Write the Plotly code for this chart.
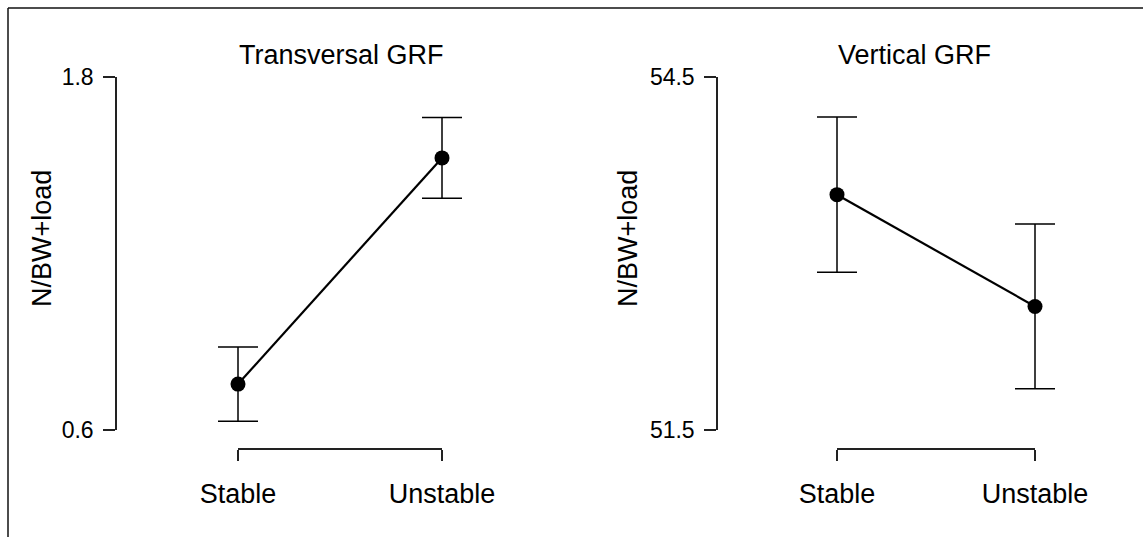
import plotly.graph_objects as go

# ---------------- data ----------------
categories = ["Stable", "Unstable"]
panel_titles = ["Transversal GRF", "Vertical GRF"]
y_label = "N/BW+load"

transversal_mean = [0.756, 1.525]
transversal_err = [0.126, 0.137]
vertical_mean = [53.50, 52.55]
vertical_err = [0.66, 0.70]

transversal_ticks = [0.6, 1.8]
vertical_ticks = [51.5, 54.5]

# ---------------- layout constants (pixels) ----------------
W, H = 1143, 537
FONT = "Liberation Sans, Arial, sans-serif"
INK = "#000000"
AX = "#222222"

def px_x(p):
    return p / W

def px_y(p):
    return 1 - p / H

Y_TOP, Y_BOT = 77, 430
BRACKET_Y = 449

panels = [
    dict(axis_x=117, right=563, cat0=238, cat1=442, title_x=341, ylab_x=42,
         mean=transversal_mean, err=transversal_err, ticks=transversal_ticks),
    dict(axis_x=718, right=1143, cat0=837, cat1=1035, title_x=915, ylab_x=628,
         mean=vertical_mean, err=vertical_err, ticks=vertical_ticks),
]

fig = go.Figure()
layout = dict(
    width=W, height=H, autosize=False,
    margin=dict(l=0, r=0, t=0, b=0, pad=0, autoexpand=False),
    paper_bgcolor="white", plot_bgcolor="rgba(0,0,0,0)",
    showlegend=False,
    font=dict(family=FONT, color=INK),
)

annotations = []
x_idx = list(range(len(categories)))

for i, p in enumerate(panels):
    n = i + 1
    xa = "xaxis" if n == 1 else f"xaxis{n}"
    ya = "yaxis" if n == 1 else f"yaxis{n}"
    xr = "x" if n == 1 else f"x{n}"
    yr = "y" if n == 1 else f"y{n}"
    bn = n + 2
    xb = f"xaxis{bn}"
    xbr = f"x{bn}"

    # data x-axis mapping: category 0 -> cat0 px, category 1 -> cat1 px
    scale = (p["cat1"] - p["cat0"])
    r0 = (p["axis_x"] - p["cat0"]) / scale
    r1 = (p["right"] - p["cat0"]) / scale

    layout[xa] = dict(domain=[px_x(p["axis_x"]), px_x(p["right"])], range=[r0, r1],
                      visible=False, anchor=yr)
    layout[ya] = dict(domain=[px_y(Y_BOT), px_y(Y_TOP)],
                      range=[p["ticks"][0], p["ticks"][-1]],
                      anchor=xr, showline=True, linecolor=AX, linewidth=1.5,
                      ticks="outside", ticklen=12, tickwidth=1.5, tickcolor=AX,
                      tickvals=p["ticks"], ticktext=[f"{t:g}" for t in p["ticks"]],
                      tickfont=dict(size=23, family=FONT, color=INK),
                      ticklabelstandoff=5,
                      showgrid=False, zeroline=False)
    # bracket x-axis carrying the category labels
    layout[xb] = dict(domain=[px_x(p["cat0"]), px_x(p["cat1"])], range=[0, len(categories) - 1],
                      anchor="free", position=px_y(BRACKET_Y),
                      showline=True, linecolor=AX, linewidth=1.5,
                      ticks="outside", ticklen=11, tickwidth=1.5, tickcolor=AX,
                      tickvals=x_idx, ticktext=categories,
                      tickfont=dict(size=27, family=FONT, color=INK),
                      ticklabelstandoff=10,
                      showgrid=False, zeroline=False)

    # invisible trace so the bracket axis is drawn
    fig.add_trace(go.Scatter(x=x_idx, y=p["mean"], xaxis=xbr, yaxis=yr,
                             mode="markers", marker=dict(opacity=0),
                             hoverinfo="skip"))
    # means with error bars
    fig.add_trace(go.Scatter(
        x=x_idx, y=p["mean"], xaxis=xr, yaxis=yr,
        mode="lines+markers",
        line=dict(color=INK, width=2.2),
        marker=dict(color=INK, size=15),
        error_y=dict(type="data", array=p["err"], visible=True,
                     color=INK, thickness=1.5, width=20),
        cliponaxis=False,
    ))

    annotations.append(dict(text=panel_titles[i], x=px_x(p["title_x"]), y=px_y(55),
                            xref="paper", yref="paper", xanchor="center", yanchor="middle",
                            showarrow=False, font=dict(size=27, family=FONT, color=INK)))
    annotations.append(dict(text=y_label, x=px_x(p["ylab_x"]), y=px_y(239),
                            xref="paper", yref="paper", xanchor="center", yanchor="middle",
                            textangle=-90, showarrow=False,
                            font=dict(size=27, family=FONT, color=INK)))

layout["annotations"] = annotations
layout["shapes"] = [
    dict(type="line", xref="paper", yref="paper", x0=px_x(8), x1=1.01, y0=px_y(8), y1=px_y(8),
         line=dict(color="#111111", width=1.5)),
    dict(type="line", xref="paper", yref="paper", x0=px_x(8), x1=px_x(8), y0=px_y(8), y1=-0.01,
         line=dict(color="#111111", width=1.5)),
]
fig.update_layout(**layout)
fig.write_html(
    "out.html",
    config={"displayModeBar": False},
    post_script="document.body.style.margin='0';document.body.style.overflow='hidden';",
)
